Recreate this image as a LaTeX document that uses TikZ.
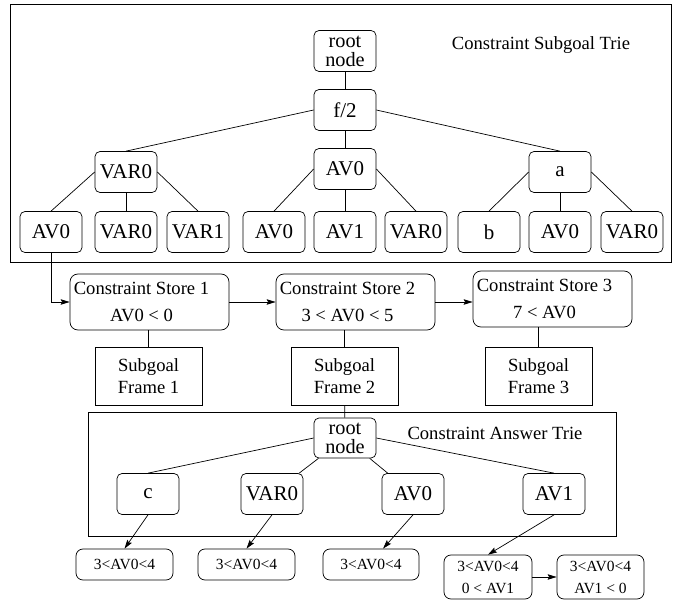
\documentclass[tikz,border=0pt]{standalone}
\usepackage{fontspec}
\setmainfont{Liberation Serif}
\usetikzlibrary{arrows.meta}

% text of a constraint store, set a little to the left
\newcommand{\storetext}[2]{#1\hspace*{16pt}\\#2\hspace*{16pt}}

\begin{document}
\begin{tikzpicture}[x=1pt,y=-1pt,line width=0.7pt,
	tn/.style={draw,rounded corners=5pt,minimum width=62pt,minimum height=41pt,inner sep=0pt,
		font=\fontsize{21}{19}\selectfont,align=center},
	store/.style={draw,rounded corners=8pt,minimum width=159pt,minimum height=56pt,inner sep=0pt,
		font=\fontsize{18.6}{27}\selectfont,align=center},
	sgframe/.style={draw,minimum width=107pt,minimum height=58pt,inner sep=0pt,
		font=\fontsize{18.6}{22}\selectfont,align=center},
	res/.style={draw,rounded corners=7pt,minimum height=31pt,inner sep=0pt,
		font=\fontsize{15.5}{22}\selectfont,align=center},
	arr/.style={-{Stealth[length=9pt,width=5.5pt,inset=1.5pt]}}]
			\useasboundingbox (0,0) rectangle (673,602);
			
			% subgoal trie
			\draw (10,4) rectangle (671,262);
			\node[font=\fontsize{18.6}{20}\selectfont] (T) at (541,45) {Constraint Subgoal Trie};
			\node[tn,font=\fontsize{20.3}{19}\selectfont] (R) at (345,51) {root\\node};
			\node[tn] (F) at (345,110) {f/2};
			\node[tn] (L1) at (126,172) {VAR0};
			\node[tn] (L2) at (345,169) {AV0};
			\node[tn] (L3) at (560,172) {a};
			\node[tn] (T1) at (51,232) {AV0};
			\node[tn] (T2) at (126,232) {VAR0};
			\node[tn] (T3) at (198,232) {VAR1};
			\node[tn] (T4) at (274,232) {AV0};
			\node[tn] (T5) at (345,232) {AV1};
			\node[tn] (T6) at (416,232) {VAR0};
			\node[tn] (T7) at (489,232) {b};
			\node[tn] (T8) at (560,232) {AV0};
			\node[tn] (T9) at (632,232) {VAR0};
			
			\draw (R)--(F);
			\draw (F.west)--(L1.north);
			\draw (F)--(L2);
			\draw (F.east)--(L3.north);
			\draw (L1.west)--(T1.north);
			\draw (L1)--(T2);
			\draw (L1.east)--(T3.north);
			\draw (L2.west)--(T4.north);
			\draw (L2)--(T5);
			\draw (L2.east)--(T6.north);
			\draw (L3.west)--(T7.north);
			\draw (L3)--(T8);
			\draw (L3.east)--(T9.north);
			
			% constraint stores and subgoal frames
			\node[store] (S1) at (149.5,302) {\storetext{Constraint Store 1}{AV0 < 0}};
			\node[store] (S2) at (355.5,302) {\storetext{Constraint Store 2}{3 < AV0 < 5}};
			\node[store] (S3) at (552.5,299) {\storetext{Constraint Store 3}{7 < AV0}};
			\node[sgframe] (G1) at (148.5,376) {Subgoal\\Frame 1};
			\node[sgframe] (G2) at (344.5,376) {Subgoal\\Frame 2};
			\node[sgframe] (G3) at (538.5,376) {Subgoal\\Frame 3};
			
			\draw[arr] (T1.south) |- (S1.west);
			\draw[arr] (S1)--(S2);
			\draw[arr] (S2.east)--(S2.east -| S3.west);
			\draw (G1.north)--(G1.north |- S1.south);
			\draw (G2.north)--(G2.north |- S2.south);
			\draw (G3.north)--(G3.north |- S3.south);
			
			% answer trie
			\draw (88,412) rectangle (616,536);
			\node[font=\fontsize{18.6}{20}\selectfont] (A) at (495,433) {Constraint Answer Trie};
			\node[tn,font=\fontsize{20.3}{19}\selectfont,minimum height=40pt] (R2) at (345,438) {root\\node};
			\node[tn] (C1) at (148,494) {c};
			\node[tn] (C2) at (272,494) {VAR0};
			\node[tn] (C3) at (413,494) {AV0};
			\node[tn] (C4) at (554,494) {AV1};
			\node[res,minimum width=97pt] (K1) at (124.5,564.5) {3<AV0<4};
			\node[res,minimum width=97pt] (K2) at (246.5,564.5) {3<AV0<4};
			\node[res,minimum width=96pt] (K3) at (371,564.5) {3<AV0<4};
			\node[res,minimum width=88pt,minimum height=44pt] (K4) at (488,577) {3<AV0<4\\0 < AV1};
			\node[res,minimum width=87pt,minimum height=44pt] (K5) at (600.5,577) {3<AV0<4\\AV1 < 0};
			
			\draw (G2)--(R2);
			\draw (R2.west)--(C1.north);
			\draw (R2)--(C2);
			\draw (R2)--(C3);
			\draw (R2.east)--(C4.north);
			\draw[arr] (C1.south)--(K1.north);
			\draw[arr] (C2.south)--(K2.north);
			\draw[arr] (C3.south)--([xshift=12pt]K3.north);
			\draw[arr] (C4.south)--(K4.north);
			\draw[arr] (K4)--(K5);
		\end{tikzpicture}
\end{document}
